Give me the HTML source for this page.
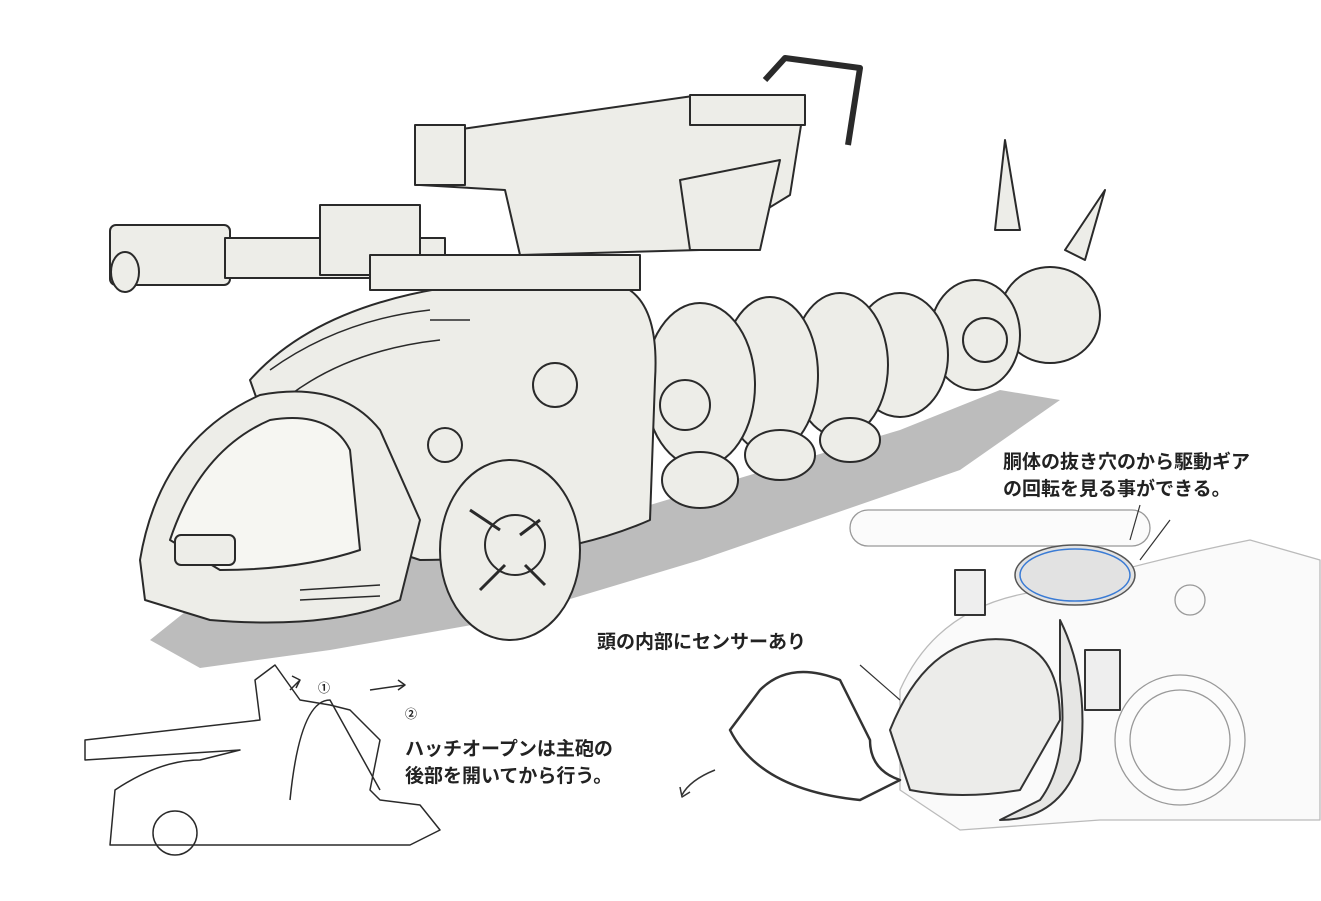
<!DOCTYPE html>
<html><head><meta charset="utf-8"><style>
html,body{margin:0;padding:0;background:#fff;width:1321px;height:901px;overflow:hidden}
svg{display:block}
text{font-family:"Liberation Sans","Noto Sans CJK JP",sans-serif;font-weight:bold;fill:#222}
</style></head><body>
<svg width="1321" height="901" viewBox="0 0 1321 901" xmlns="http://www.w3.org/2000/svg">
<g stroke="#2a2a2a" stroke-width="2" fill="#ededE8" stroke-linejoin="round">
<!-- shadow -->
<path d="M150 640 L200 600 L320 560 L600 520 L900 430 L1000 390 L1060 400 L960 470 L700 560 L500 620 L330 650 L200 668 Z" fill="#bcbcbc" stroke="none"/>
<!-- tail segments -->
<ellipse cx="1050" cy="315" rx="50" ry="48"/>
<ellipse cx="975" cy="335" rx="45" ry="55"/>
<ellipse cx="900" cy="355" rx="48" ry="62"/>
<ellipse cx="840" cy="365" rx="48" ry="72"/>
<ellipse cx="770" cy="375" rx="48" ry="78"/>
<ellipse cx="700" cy="385" rx="55" ry="82"/>
<ellipse cx="780" cy="455" rx="35" ry="25"/>
<ellipse cx="850" cy="440" rx="30" ry="22"/>
<ellipse cx="700" cy="480" rx="38" ry="28"/>
<polygon points="995,230 1005,140 1020,230" />
<polygon points="1065,250 1105,190 1085,260" />
<circle cx="985" cy="340" r="22"/>
<!-- main body -->
<path d="M250 380 Q330 290 520 280 L620 285 Q660 300 655 380 L650 520 Q560 560 420 560 L300 520 Z"/>
<path d="M270 370 Q340 320 430 310 M290 395 Q350 350 440 340 M430 320 L470 320" fill="none" stroke-width="1.5"/>
<ellipse cx="510" cy="550" rx="70" ry="90"/>
<circle cx="515" cy="545" r="30"/>
<path d="M470 510 L500 530 M540 520 L520 535 M480 590 L505 565 M545 585 L525 565" fill="none" stroke-width="3"/>
<!-- head -->
<path d="M140 560 Q160 440 260 395 Q340 380 380 430 L420 520 L400 600 Q330 630 210 620 L145 600 Z"/>
<path d="M170 540 Q200 450 270 420 Q330 410 350 450 L360 550 Q300 570 220 570 Z" fill="#f6f6f2"/>
<rect x="175" y="535" width="60" height="30" rx="6"/>
<path d="M300 590 L380 585 M300 600 L380 596" fill="none" stroke-width="1.5"/>
<circle cx="445" cy="445" r="17"/>
<circle cx="685" cy="405" r="25"/>
<circle cx="555" cy="385" r="22"/>
<!-- cannon -->
<rect x="110" y="225" width="120" height="60" rx="6"/>
<ellipse cx="125" cy="272" rx="14" ry="20"/>
<rect x="225" y="238" width="220" height="40"/>
<rect x="320" y="205" width="100" height="70"/>
<rect x="370" y="255" width="270" height="35"/>
<!-- turret/top -->
<path d="M420 135 L700 95 L805 100 L790 195 L700 250 L520 255 L505 190 L420 185 Z"/>
<rect x="415" y="125" width="50" height="60"/>
<rect x="690" y="95" width="115" height="30"/>
<path d="M765 80 L785 58 L860 68 L848 145" fill="none" stroke-width="6"/>
<path d="M680 180 L780 160 L760 250 L690 250 Z"/>
<!-- bottom-left sketch -->
<g fill="none" stroke-width="1.5">
<path d="M85 740 L260 720 L255 680 L275 665 L300 700 L330 705 L350 710 L380 740 L370 790 L380 800 L420 805 L440 830 L410 845 L110 845 L115 790 Q160 760 200 760 L240 750 L85 760 Z"/>
<path d="M290 800 Q300 700 330 700 L380 790"/>
<circle cx="175" cy="833" r="22"/>
<path d="M290 690 L300 680 M370 690 L405 685 M398 680 L405 685 L398 690 M292 676 L300 680 L296 688"/>
</g>
<!-- bottom-right cutaway -->
<g fill="#fafafa" stroke="#999" stroke-width="1.3">
<rect x="850" y="510" width="300" height="36" rx="18" fill="#fbfbfb"/>
<path d="M900 690 Q940 600 1050 590 Q1150 560 1250 540 L1320 560 L1320 820 L1100 820 L960 830 L900 790 Z" stroke="#bbb"/>
<circle cx="1180" cy="740" r="65" fill="#fcfcfc"/>
<circle cx="1180" cy="740" r="50" fill="none"/>
<circle cx="1190" cy="600" r="15"/>
</g>
<ellipse cx="1075" cy="575" rx="60" ry="30" fill="#e2e2e2" stroke="#555" stroke-width="1.5"/>
<ellipse cx="1075" cy="575" rx="55" ry="26" fill="none" stroke="#3a7bd5" stroke-width="1.5"/>
<path d="M890 730 Q930 630 1010 640 Q1060 650 1060 720 L1020 790 Q960 800 910 790 Z" fill="#ececea" stroke="#333" stroke-width="2"/>
<rect x="1085" y="650" width="35" height="60" fill="#eee" stroke="#333" stroke-width="2"/>
<rect x="955" y="570" width="30" height="45" fill="#eee" stroke="#333" stroke-width="2"/>
<path d="M760 690 Q790 660 840 680 L870 740 Q870 770 900 780 L860 800 Q760 790 730 730 Z" fill="none" stroke="#333" stroke-width="2.5"/>
<path d="M1060 620 Q1090 680 1080 760 Q1060 820 1000 820 L1040 800 Q1070 760 1060 680 Z" fill="#e6e6e4" stroke="#333" stroke-width="2"/>
<path d="M860 665 L900 700 M1140 505 L1130 540 M1170 520 L1140 560" stroke="#333" stroke-width="1.2" fill="none"/>
<path d="M715 770 Q690 780 682 795 M680 787 L682 797 L690 792" fill="none" stroke="#333" stroke-width="1.5"/>
</g>
<text x="1003" y="468" font-size="19">胴体の抜き穴のから駆動ギア</text>
<text x="1003" y="495" font-size="19">の回転を見る事ができる。</text>
<text x="597" y="648" font-size="19">頭の内部にセンサーあり</text>
<text x="405" y="755" font-size="19">ハッチオープンは主砲の</text>
<text x="405" y="782" font-size="19">後部を開いてから行う。</text>
<text x="318" y="692" font-size="12" font-weight="normal">①</text>
<text x="405" y="718" font-size="12" font-weight="normal">②</text>
</svg>
</body></html>
